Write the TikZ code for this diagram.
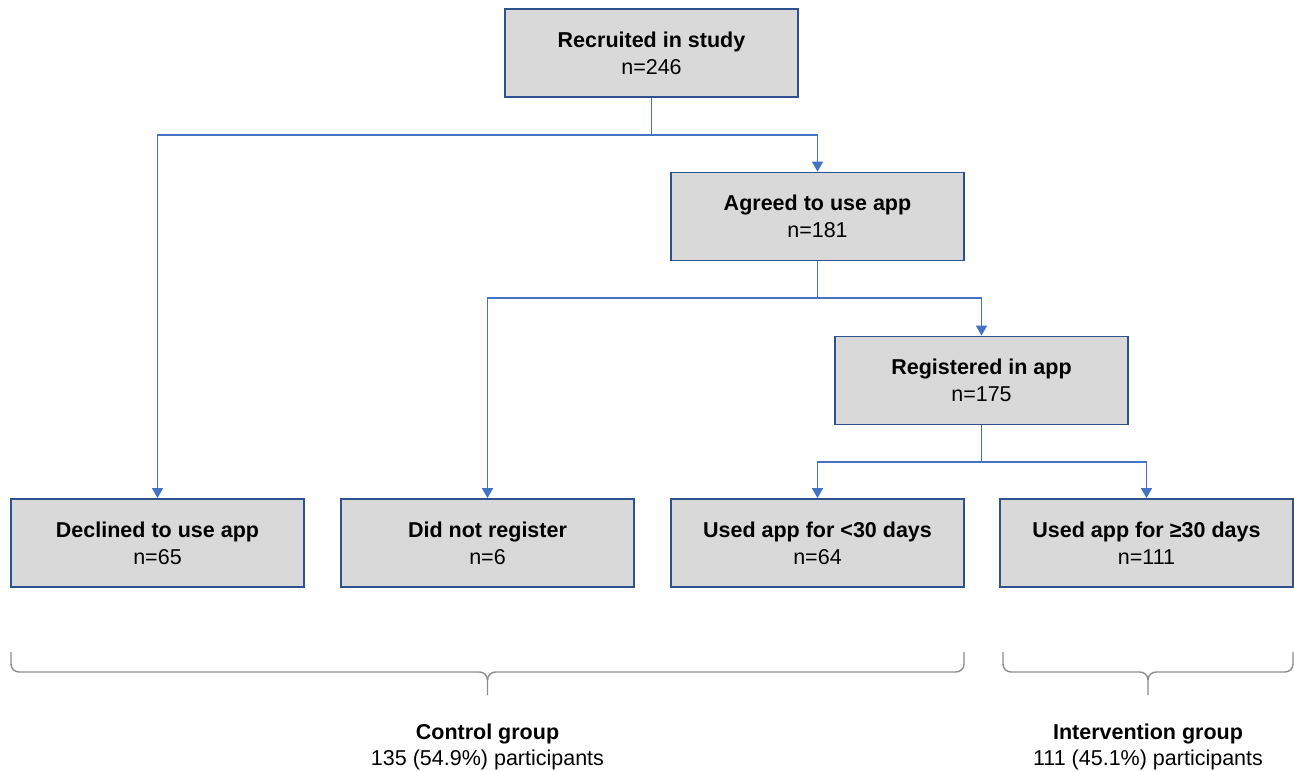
\documentclass[tikz,border=0pt]{standalone}
\usepackage{fontspec}
\setmainfont{Liberation Sans}
\usetikzlibrary{arrows.meta}
\definecolor{boxc}{RGB}{47,82,143}
\definecolor{boxfill}{RGB}{217,217,217}
\definecolor{linec}{RGB}{68,114,196}
\definecolor{bracec}{RGB}{140,140,140}
\begin{document}
\begin{tikzpicture}[x=1pt,y=-1pt,
  flowbox/.style={draw=boxc, line width=1.8pt, fill=boxfill, minimum width=293pt, minimum height=88pt, align=center, inner sep=0pt, font=\fontsize{21.5}{27}\selectfont},
  conn/.style={draw=linec, line width=1.4pt},
  arr/.style={conn, -{Triangle[width=11pt,length=10pt]}},
  bracestyle/.style={draw=bracec, line width=1.4pt},
  grouplabel/.style={align=center, font=\fontsize{21.5}{26}\selectfont}]
\useasboundingbox (0,0) rectangle (1294,771);
% boxes
\node[flowbox] (rec) at (651.5,53) {\textbf{Recruited in study}\\n=246};
\node[flowbox] (agr) at (817.5,216.5) {\textbf{Agreed to use app}\\n=181};
\node[flowbox] (reg) at (981.5,380.5) {\textbf{Registered in app}\\n=175};
\node[flowbox] (dec) at (157.5,543) {\textbf{Declined to use app}\\n=65};
\node[flowbox] (dnr) at (487.5,543) {\textbf{Did not register}\\n=6};
\node[flowbox] (lt) at (817.5,543) {\textbf{Used app for <30 days}\\n=64};
\node[flowbox] (ge) at (1146.5,543) {\textbf{Used app for ≥30 days}\\n=111};
% junctions
\coordinate (j1) at (651.5,135);
\coordinate (j2) at (817.5,298);
\coordinate (j3) at (981.5,462);
\draw[conn] (rec.south) -- (j1);
\draw[arr] (j1) -| (dec.north);
\draw[arr] (j1) -| (agr.north);
\draw[conn] (agr.south) -- (j2);
\draw[arr] (j2) -| (dnr.north);
\draw[arr] (j2) -| (reg.north);
\draw[conn] (reg.south) -- (j3);
\draw[arr] (j3) -| (lt.north);
\draw[arr] (j3) -| (ge.north);
% braces
\coordinate (c1) at (11,652);
\coordinate (c2) at (964,652);
\coordinate (ct) at (487.5,695);
\draw[bracestyle] (c1) -- (11,664) to[out=-90,in=180] (19,672) -- (479.5,672) to[out=0,in=90] (ct |- 0,680) -- (ct);
\draw[bracestyle] (c2) -- (964,664) to[out=-90,in=0] (956,672) -- (495.5,672) to[out=180,in=90] (ct |- 0,680);
\coordinate (i1) at (1003,652);
\coordinate (i2) at (1293,652);
\coordinate (it) at (1148,695);
\draw[bracestyle] (i1) -- (1003,664) to[out=-90,in=180] (1011,672) -- (1140,672) to[out=0,in=90] (it |- 0,680) -- (it);
\draw[bracestyle] (i2) -- (1293,664) to[out=-90,in=0] (1285,672) -- (1156,672) to[out=180,in=90] (it |- 0,680);
% group labels
\node[grouplabel] (cg) at (487.5,747) {\textbf{Control group}\\135 (54.9\%) participants};
\node[grouplabel] (ig) at (1148,747) {\textbf{Intervention group}\\111 (45.1\%) participants};
\end{tikzpicture}
\end{document}
